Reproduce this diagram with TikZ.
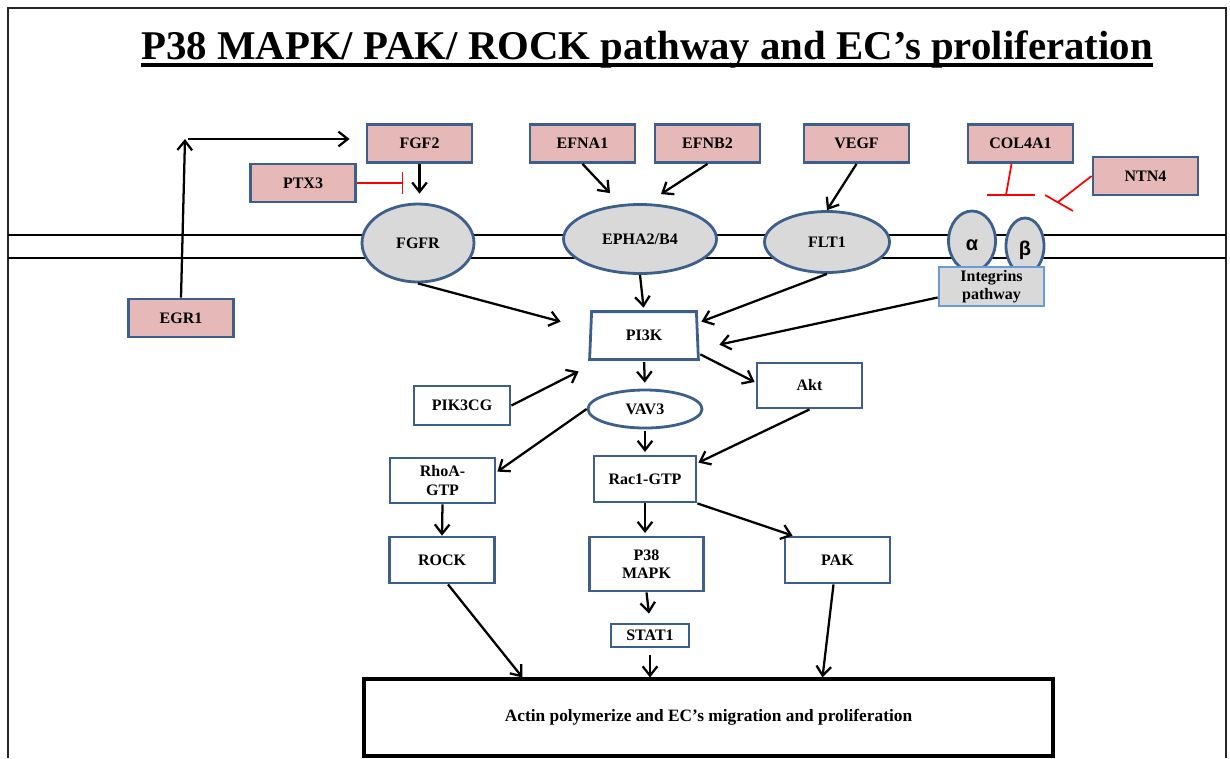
\documentclass[tikz,border=0pt]{standalone}
\usepackage{fontspec}
\setmainfont{Liberation Serif}
\newfontfamily\greekfont{Liberation Sans}
\usetikzlibrary{shapes.geometric,arrows.meta}
\definecolor{genepink}{RGB}{230,185,184}
\definecolor{boxblue}{RGB}{60,95,140}
\definecolor{intblue}{RGB}{105,155,215}
\definecolor{recgray}{RGB}{217,217,217}
\newcommand{\px}{0.75pt}
\newcommand{\nodefont}{\bfseries\fontsize{12}{14}\selectfont}
\newcommand{\gene}[4]{\node[gene] (#1) at (#2,#3) {#4};}
\newcommand{\prot}[6]{\node[prot, minimum width=#4*\px, minimum height=#5*\px] (#1) at (#2,#3) {#6};}
\tikzset{
  gene/.style={draw=boxblue, fill=genepink, line width=2.1pt, inner sep=0pt,
    minimum width=105*\px, minimum height=38*\px, font=\nodefont},
  prot/.style={draw=boxblue, fill=white, line width=2.1pt, inner sep=0pt,
    align=center, font=\nodefont},
  recep/.style={ellipse, draw=boxblue, fill=recgray, line width=2.1pt, inner sep=0pt,
    font=\nodefont},
  greek/.style={recep, font=\greekfont\bfseries\fontsize{15}{15}\selectfont,
    text height=14pt, text depth=0pt},
  act/.style={line width=1.7pt, -{Straight Barb[length=7pt,width=11pt]}},
  inh/.style={red, line width=1.3pt, -{Bar[width=#1]}},
  inhbar/.style={red, line width=1.3pt},
}
\begin{document}
\begin{tikzpicture}[x=0.75pt,y=-0.75pt]
  \useasboundingbox (0,0) rectangle (1230,758);
  % frame and membrane
  \draw[line width=1.5pt, black!85] (8,758) -- (8,8) -- (1226,8) -- (1226,758);
  \draw[line width=1.6pt] (8,235) -- (1226,235);
  \draw[line width=1.6pt] (8,258) -- (1226,258);

  % title
  \node[anchor=base, inner sep=0pt, font=\bfseries\fontsize{30.6}{34}\selectfont] (title) at (647,59)
    {P38 MAPK/ PAK/ ROCK pathway and EC’s proliferation};
  \draw[line width=2.3pt] ([shift={(0,6)}]title.base west) -- ([shift={(0,6)}]title.base east);

  % ligands and regulators
  \gene{FGF2}{419.5}{143.5}{FGF2}
  \gene{PTX3}{303}{183}{PTX3}
  \gene{EGR1}{181}{318}{EGR1}
  \gene{EFNA1}{582.5}{143.5}{EFNA1}
  \gene{EFNB2}{707.5}{143.5}{EFNB2}
  \gene{VEGF}{856.5}{143.5}{VEGF}
  \gene{COL4A1}{1020.5}{143.5}{COL4A1}
  \gene{NTN4}{1145.5}{176}{NTN4}

  % receptors
  \node[recep, minimum width=112*\px, minimum height=78*\px] (FGFR) at (418,243) {FGFR};
  \node[recep, minimum width=153*\px, minimum height=69*\px] (EPHA) at (640,239) {EPHA2/B4};
  \node[recep, minimum width=125*\px, minimum height=61*\px] (FLT1) at (827,242) {FLT1};
  \node[greek, minimum width=47*\px, minimum height=60*\px] (alpha) at (972,241) {α};
  \node[greek, minimum width=38*\px, minimum height=56*\px] (beta) at (1025,246) {β};
  \node[draw=intblue, fill=recgray, line width=2.1pt, inner sep=0pt, align=center, font=\nodefont,
    minimum width=105*\px, minimum height=39*\px] (integ) at (991.5,286.5) {Integrins\\pathway};

  % signalling
  \node[prot, draw=none, fill=none, minimum width=102*\px, minimum height=45*\px] (PI3K) at (644,335.5) {PI3K};
  \draw[boxblue, line width=2.1pt] ([shift={(-2,0)}]PI3K.south west) -- ([shift={(2,0)}]PI3K.south east)
    -- (PI3K.north east) -- (PI3K.north west) -- cycle;
  \prot{Akt}{809.5}{385.5}{105}{45}{Akt}
  \prot{PIK3CG}{462}{405.5}{96}{39}{PIK3CG}
  \node[prot, ellipse, minimum width=114*\px, minimum height=38*\px] (VAV3) at (645,409) {VAV3};
  \prot{RhoA}{442.5}{480.5}{105}{45}{RhoA-\\GTP}
  \prot{Rac1}{645}{479}{102}{46}{Rac1-GTP}
  \prot{ROCK}{442}{560}{105}{46}{ROCK}
  \prot{P38}{646.5}{564}{114}{54}{P38\\MAPK}
  \prot{PAK}{837.5}{560}{105}{46}{PAK}
  \prot{STAT1}{650}{635.5}{78}{23}{STAT1}
  \node[draw, line width=2.3pt, inner sep=0pt, minimum width=689*\px, minimum height=77*\px,
    font=\bfseries\fontsize{13}{15}\selectfont] (actin) at (708.5,717.5)
    {Actin polymerize and EC’s migration and proliferation};

  % connectors
  \coordinate (egrtop) at (185,139);
  \coordinate (colend) at (1006,195);
  \coordinate (ntnend) at (1058,202);
  \draw[act] (EGR1.north) -- (egrtop);
  \draw[act] ([shift={(3,0)}]egrtop) -- ([shift={(-16,-4.5)}]FGF2.west);
  \draw[act] (FGF2.south) -- (FGF2.south |- FGFR.north) [shorten >=6.75pt];
  \draw[inh=17pt] (PTX3.east) -- (PTX3.east -| FGFR.north) [shorten >=11pt];
  \draw[act] (EFNA1.south) -- ([shift={(-30,-10)}]EPHA.north);
  \draw[act] (EFNB2.south) -- ([shift={(21,-9)}]EPHA.north);
  \draw[act] (VEGF.south) -- (FLT1.north);
  \draw[inhbar] ([shift={(-9,0)}]COL4A1.south) -- (colend);
  \draw[inhbar] ([shift={(-19,0)}]colend) -- ([shift={(29,0)}]colend);
  \draw[inhbar] (NTN4.west) -- (ntnend);
  \draw[inhbar] ([shift={(-13,-7)}]ntnend) -- ([shift={(15,9)}]ntnend);

  \draw[act] (FGFR.south) -- ([shift={(-31,10)}]PI3K.north west);
  \draw[act] (EPHA.south) -- (PI3K.north) [shorten >=3pt];
  \draw[act] (FLT1.south) -- ([shift={(5,10)}]PI3K.north east);
  \draw[act] ([shift={(0,11)}]integ.west) -- ([shift={(23,33)}]PI3K.north east);
  \draw[act] ([shift={(4,-5)}]PI3K.south east) -- ([shift={(-1,-3.5)}]Akt.west);
  \draw[act] (PIK3CG.east) -- ([shift={(-13,12)}]PI3K.south west);
  \draw[act] (PI3K.south) -- (VAV3.north) [shorten <=2pt, shorten >=4.5pt];
  \draw[act] (VAV3.west) -- ([shift={(1,15)}]RhoA.north east);
  \draw[act] (VAV3.south) -- (Rac1.north) [shorten <=1pt, shorten >=2pt];
  \draw[act] (Akt.south) -- ([shift={(1,8)}]Rac1.north east);
  \draw[act] (RhoA.south) -- (ROCK.north);
  \draw[act] (Rac1.south) -- (Rac1.south |- P38.north) [shorten >=2pt];
  \draw[act] (Rac1.south east) -- ([shift={(9,0)}]PAK.north west);
  \draw[act] (P38.south) -- (STAT1.north) [shorten >=6.75pt];
  \draw[act] ([shift={(6,0)}]ROCK.south) -- ([shift={(160,0)}]actin.north west);
  \draw[act] (STAT1.south) -- (STAT1.south |- actin.north) [shorten <=5pt];
  \draw[act] ([shift={(-4,0)}]PAK.south) -- ([shift={(460,0)}]actin.north west);
\end{tikzpicture}
\end{document}
